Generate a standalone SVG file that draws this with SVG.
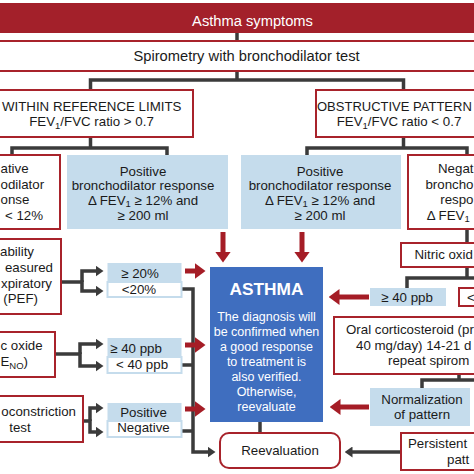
<svg xmlns="http://www.w3.org/2000/svg" width="474" height="474" viewBox="0 0 474 474">
<style>
.t{font-family:"Liberation Sans",Arial,sans-serif;font-size:13.3px;fill:#1a1a1a;text-anchor:middle}
.s{text-anchor:start}
.e{text-anchor:end}
.h{font-size:14.7px}
.w{fill:#fff}
.sub{font-size:9.5px}
.rb{fill:#fff;stroke:#a8232b;stroke-width:2}
.lb{fill:#c5dcec}
.wb{fill:#fff;stroke:#c5dcec;stroke-width:2}
.c{fill:none;stroke:#3b3b3b;stroke-width:3.5}
.r{fill:none;stroke:#a51d26;stroke-width:5}
</style>
<defs>
<marker id="ga" markerUnits="userSpaceOnUse" markerWidth="8" markerHeight="11" refX="0.5" refY="5.5" orient="auto"><path d="M0,0 L8,5.5 L0,11 z" fill="#3b3b3b"/></marker>
<marker id="ra" markerUnits="userSpaceOnUse" markerWidth="11" markerHeight="16" refX="0.5" refY="8" orient="auto"><path d="M0,0 L11,8 L0,16 z" fill="#a51d26"/></marker>
</defs>
<rect width="474" height="474" fill="#fff"/>

<g id="connectors">
<path class="c" d="M237,33 V41"/>
<path class="c" d="M237,71 V80"/>
<path class="c" d="M90.5,90 V80 H403.5 V90"/>
<path class="c" d="M90.5,137 V148"/>
<path class="c" d="M12,155 V148 H167 V155"/>
<path class="c" d="M403.5,137 V148"/>
<path class="c" d="M307,155 V148 H467 V155"/>
<path class="c" d="M467,229 V243"/>
<path class="c" d="M467,267 V278"/>
<path class="c" d="M407,288 V278 H480"/>
<path class="c" d="M82,282 V271 H96" marker-end="url(#ga)"/>
<path class="c" d="M61,282 H82 V291 H96" marker-end="url(#ga)"/>
<path class="c" d="M181,289 H193 V452 H208" marker-end="url(#ga)"/>
<path class="c" d="M80,354 V344 H96" marker-end="url(#ga)"/>
<path class="c" d="M55,354 H80 V366 H96" marker-end="url(#ga)"/>
<path class="c" d="M181,365 H193"/>
<path class="c" d="M90,421 V408 H96" marker-end="url(#ga)"/>
<path class="c" d="M83,421 H90 V432 H96" marker-end="url(#ga)"/>
<path class="c" d="M181,431 H193"/>
<path class="c" d="M260,422 V433"/>
<path class="c" d="M401,452 H352" marker-end="url(#ga)"/>
<path class="c" d="M459,374 V380"/>
<path class="c" d="M422,388 V380 H480"/>
<path class="r" d="M223,232 V252" marker-end="url(#ra)"/>
<path class="r" d="M302,232 V252" marker-end="url(#ra)"/>
<path class="r" d="M185,271 H195" marker-end="url(#ra)"/>
<path class="r" d="M185,345 H195" marker-end="url(#ra)"/>
<path class="r" d="M185,409 H195" marker-end="url(#ra)"/>
<path class="r" d="M369,297 H339" marker-end="url(#ra)"/>
<path class="r" d="M369,407 H340" marker-end="url(#ra)"/>
</g>

<g id="symptoms">
<rect x="-5" y="3" width="484" height="30" fill="#a3202a"/>
<text class="t h w" x="252.5" y="26">Asthma symptoms</text>
</g>
<g id="spirometry">
<rect class="rb" x="-5" y="41" width="484" height="30"/>
<text class="t h" x="246.5" y="61">Spirometry with bronchodilator test</text>
</g>
<g id="within">
<rect class="rb" x="-10" y="90" width="203" height="47"/>
<text class="t" x="91.7" y="111">WITHIN REFERENCE LIMITS</text>
<text class="t" x="91.5" y="126">FEV<tspan class="sub" dy="2.5">1</tspan><tspan dy="-2.5">/FVC ratio &gt; 0.7</tspan></text>
</g>
<g id="obstructive">
<rect class="rb" x="316" y="90" width="170" height="47"/>
<text class="t s" x="317" y="111" style="font-size:13px">OBSTRUCTIVE PATTERN</text>
<text class="t" x="399" y="126">FEV<tspan class="sub" dy="2.5">1</tspan><tspan dy="-2.5">/FVC ratio &lt; 0.7</tspan></text>
</g>
<g id="neg-left">
<rect class="rb" x="-70" y="155" width="130" height="74"/>
<text class="t s" x="0.5" y="173">ative</text>
<text class="t s" x="0.5" y="188.5">odilator</text>
<text class="t s" x="0.5" y="204">onse</text>
<text class="t e" x="43" y="219.5">&lt; 12%</text>
</g>
<g id="pos-left">
<rect class="lb" x="67" y="155" width="161" height="74"/>
<text class="t" x="143" y="175.5">Positive</text>
<text class="t" x="143" y="189.5">bronchodilator response</text>
<text class="t" x="143" y="204.5">Δ FEV<tspan class="sub" dy="2">1</tspan><tspan dy="-2"> ≥ 12% and</tspan></text>
<text class="t" x="143" y="220">≥ 200 ml</text>
</g>
<g id="pos-right">
<rect class="lb" x="241" y="155" width="160" height="74"/>
<text class="t" x="320" y="175.5">Positive</text>
<text class="t" x="320" y="189.5">bronchodilator response</text>
<text class="t" x="320" y="204.5">Δ FEV<tspan class="sub" dy="2">1</tspan><tspan dy="-2"> ≥ 12% and</tspan></text>
<text class="t" x="320" y="220">≥ 200 ml</text>
</g>
<g id="neg-right">
<rect class="rb" x="408" y="155" width="130" height="74"/>
<text class="t e" x="473.5" y="173">Negat</text>
<text class="t e" x="473.5" y="188.5">broncho</text>
<text class="t e" x="473.5" y="204">respo</text>
<text class="t s" x="426.7" y="219.5">Δ FEV<tspan class="sub" dy="2">1</tspan></text>
</g>
<g id="feno-right">
<rect class="rb" x="401" y="243" width="140" height="24"/>
<text class="t s" x="414.5" y="259">Nitric oxid</text>
</g>
<g id="ge40-right">
<rect class="lb" x="370" y="288" width="76" height="18"/>
<text class="t" x="407" y="301.5">≥ 40 ppb</text>
</g>
<g id="lt40-right">
<rect class="rb" x="459" y="288" width="76" height="18"/>
<text class="t s" x="467" y="301.5">&lt;</text>
</g>
<g id="oral">
<rect class="rb" x="334" y="317" width="210" height="57"/>
<text class="t s" x="346" y="334">Oral corticosteroid (pr</text>
<text class="t s" x="356" y="349.5">40 mg/day) 14-21 d</text>
<text class="t s" x="388" y="365">repeat spirom</text>
</g>
<g id="normalization">
<rect class="lb" x="370" y="388" width="100" height="38"/>
<text class="t" x="422" y="404">Normalization</text>
<text class="t" x="422" y="419">of pattern</text>
</g>
<g id="persistent">
<rect class="rb" x="401" y="433" width="140" height="37"/>
<text class="t s" x="408" y="448">Persistent</text>
<text class="t s" x="447" y="464">patt</text>
</g>
<g id="reevaluation">
<rect class="rb" x="220" y="433" width="120" height="35" rx="9"/>
<text class="t" x="280" y="455">Reevaluation</text>
</g>
<g id="asthma">
<rect x="210" y="267" width="113" height="155" fill="#3f6ebf"/>
<text class="t w" x="266.5" y="295" style="font-size:17.3px;font-weight:bold">ASTHMA</text>
<g class="t w" style="font-size:12.5px">
<text x="266.5" y="320.5">The diagnosis will</text>
<text x="266.5" y="335.5">be confirmed when</text>
<text x="266.5" y="350.5">a good response</text>
<text x="266.5" y="365.5">to treatment is</text>
<text x="266.5" y="380.5">also verified.</text>
<text x="266.5" y="395.5">Otherwise,</text>
<text x="266.5" y="410.5">reevaluate</text>
</g>
</g>
<g id="pef">
<rect class="rb" x="-50" y="239" width="111" height="75"/>
<text class="t e" x="34" y="256">ability</text>
<text class="t e" x="53" y="272">easured</text>
<text class="t e" x="52" y="288">xpiratory</text>
<text class="t e" x="38" y="303">(PEF)</text>
</g>
<g id="pef-ge20">
<rect class="lb" x="107.5" y="263" width="74" height="19"/>
<text class="t" x="140" y="278">≥ 20%</text>
</g>
<g id="pef-lt20">
<rect class="wb" x="107.5" y="282" width="74" height="15"/>
<text class="t" x="139" y="294">&lt;20%</text>
</g>
<g id="feno-left">
<rect class="rb" x="-45" y="332" width="100" height="45"/>
<text class="t s" x="0.5" y="350">c oxide</text>
<text class="t e" x="28" y="366">E<tspan class="sub" dy="2.5">NO</tspan><tspan dy="-2.5">)</tspan></text>
</g>
<g id="feno-ge40">
<rect class="lb" x="107.5" y="338" width="74" height="19"/>
<text class="t" x="136" y="353">≥ 40 ppb</text>
</g>
<g id="feno-lt40">
<rect class="wb" x="107.5" y="357" width="74" height="16"/>
<text class="t" x="142" y="369">&lt; 40 ppb</text>
</g>
<g id="broncho">
<rect class="rb" x="-45" y="396" width="128" height="46"/>
<text class="t e" x="76" y="416">oconstriction</text>
<text class="t" x="20" y="431.5">test</text>
</g>
<g id="bc-pos">
<rect class="lb" x="107.5" y="403" width="74" height="18"/>
<text class="t" x="143.5" y="416.5">Positive</text>
</g>
<g id="bc-neg">
<rect class="wb" x="107.5" y="421" width="74" height="16"/>
<text class="t" x="143.5" y="432">Negative</text>
</g>
</svg>
